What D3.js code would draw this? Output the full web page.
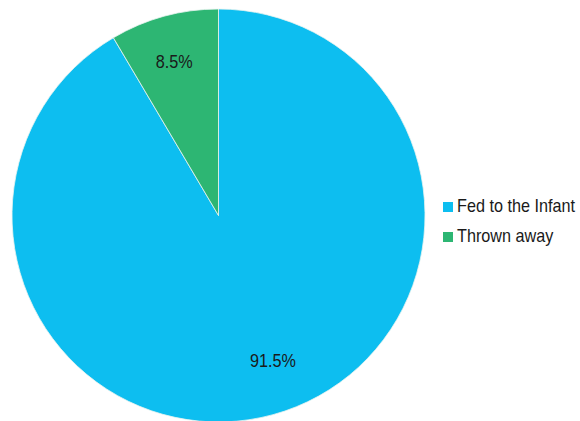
<!DOCTYPE html>
<html>
<head>
<meta charset="utf-8">
<script src="https://cdn.jsdelivr.net/npm/d3@7"></script>
<style>
  html, body { margin: 0; padding: 0; background: #fff; }
  svg { display: block; }
  text { font-family: "Liberation Sans", Arial, sans-serif; fill: #1a1a1a; }
</style>
</head>
<body>
<svg id="chart" width="580" height="421"></svg>
<script>
// Infant formula use: share fed vs. discarded
const categories = ["Fed to the Infant", "Thrown away"];
const values = [91.5, 8.5];
const colors = ["#0dbef0", "#2db673"];

const width = 580, height = 421;
const cx = 218.5, cy = 215.5, radius = 206.5;
const narrow = 0.9; // horizontal squeeze to mimic a condensed face

const svg = d3.select("#chart");
const data = categories.map((c, i) => ({ name: c, value: values[i], color: colors[i] }));

const pie = d3.pie().sort(null).value(d => d.value);
const arc = d3.arc().innerRadius(0).outerRadius(radius);
const labelArc = d3.arc().innerRadius(radius * 0.76).outerRadius(radius * 0.76);
// small per-slice nudges for label placement
const labelNudge = [[13, -6], [-3, -3]];

const g = svg.append("g").attr("transform", `translate(${cx},${cy})`);
const arcs = pie(data);

g.selectAll("path.slice")
  .data(arcs)
  .join("path")
  .attr("class", "slice")
  .attr("d", arc)
  .attr("fill", d => d.data.color)
  .attr("stroke", "#e8f4f0")
  .attr("stroke-width", 0.8);

g.selectAll("text.pct")
  .data(arcs)
  .join("text")
  .attr("class", "pct")
  .attr("transform", (d, i) => {
    const [x, y] = labelArc.centroid(d);
    return `translate(${x + labelNudge[i][0]},${y + labelNudge[i][1]}) scale(${narrow},1)`;
  })
  .attr("text-anchor", "middle")
  .attr("dy", "0.36em")
  .style("font-size", "18px")
  .text(d => d3.format(".1f")(d.data.value) + "%");

// Legend
const legend = svg.append("g").attr("transform", "translate(443,202)");
const items = legend.selectAll("g.item")
  .data(data)
  .join("g")
  .attr("class", "item")
  .attr("transform", (d, i) => `translate(0,${i * 30})`);
items.append("rect")
  .attr("width", 10).attr("height", 10)
  .attr("fill", d => d.color);
items.append("text")
  .attr("transform", `translate(14,10) scale(${narrow},1)`)
  .style("font-size", "18px")
  .text(d => d.name);
</script>
</body>
</html>
